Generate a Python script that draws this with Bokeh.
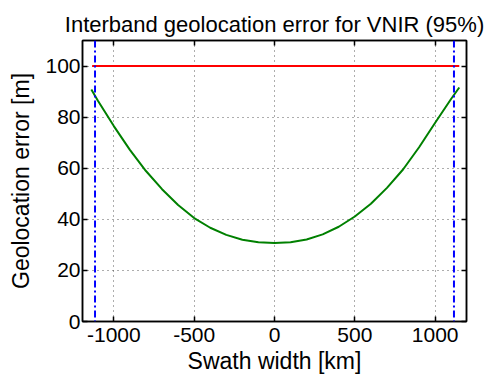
from bokeh.plotting import figure
from bokeh.models import LinearAxis, Range1d, Span, FixedTicker, PrintfTickFormatter
from bokeh.embed import file_html
from bokeh.resources import INLINE

# Data
swath_km = [-1140, -1100, -1000, -900, -800, -700, -600, -500, -400, -300, -200, -100,
            0, 100, 200, 300, 400, 500, 600, 700, 800, 900, 1000, 1100, 1150]
geo_err_m = [90.8, 86.5, 76.5, 67.2, 58.9, 51.8, 45.6, 40.5, 36.7, 33.9, 32.0, 31.0,
             30.7, 31.0, 32.1, 34.1, 37.1, 41.1, 46.1, 52.3, 59.5, 68.2, 77.8, 87.2, 91.6]
req_x = [-1135, 1150]
req_y = [100, 100]
swath_edges = [-1117, 1117]
x_ticks = [-1000, -500, 0, 500, 1000]
y_ticks = [0, 20, 40, 60, 80, 100]

FONT = "Liberation Sans"

p = figure(width=489, height=378, frame_width=384, frame_height=281,
           output_backend="svg", toolbar_location=None,
           x_range=Range1d(-1195, 1195), y_range=Range1d(0, 110),
           min_border_left=82, min_border_right=23, min_border_top=40, min_border_bottom=57,
           title="Interband geolocation error for VNIR (95%)")

p.title.text_font = FONT
p.title.text_font_size = "22px"
p.title.text_font_style = "normal"
p.title.text_color = "black"
p.title.align = "center"
p.title.standoff = 8

p.background_fill_color = "white"
p.border_fill_color = "white"
p.outline_line_color = "black"
p.outline_line_width = 1.5

for ax in (p.xaxis[0], p.yaxis[0]):
    ax.major_label_text_font = FONT
    ax.major_label_text_font_size = "21px"
    ax.major_label_text_color = "black"
    ax.axis_label_text_font = FONT
    ax.axis_label_text_font_size = "23px"
    ax.axis_label_text_font_style = "normal"
    ax.axis_label_text_color = "black"
    ax.major_tick_in = 5
    ax.major_tick_out = 0
    ax.minor_tick_in = 0
    ax.minor_tick_out = 0
    ax.axis_line_width = 1.5
    ax.major_tick_line_width = 1.5
    ax.formatter = PrintfTickFormatter(format="%d")

p.xaxis[0].ticker = FixedTicker(ticks=x_ticks)
p.yaxis[0].ticker = FixedTicker(ticks=y_ticks)
p.xaxis[0].axis_label = "Swath width [km]"
p.yaxis[0].axis_label = "Geolocation error [m]"
p.xaxis[0].major_label_standoff = 6
p.yaxis[0].major_label_standoff = 2
p.xaxis[0].axis_label_standoff = 3
p.yaxis[0].axis_label_standoff = 8

top_ax = LinearAxis(ticker=FixedTicker(ticks=x_ticks), major_label_text_font_size="0px",
                    major_label_standoff=0, major_tick_in=5, major_tick_out=0,
                    minor_tick_in=0, minor_tick_out=0, axis_line_width=1.5,
                    major_tick_line_width=1.5)
right_ax = LinearAxis(ticker=FixedTicker(ticks=y_ticks), major_label_text_font_size="0px",
                      major_label_standoff=0, major_tick_in=5, major_tick_out=0,
                      minor_tick_in=0, minor_tick_out=0, axis_line_width=1.5,
                      major_tick_line_width=1.5)
p.add_layout(top_ax, "above")
p.add_layout(right_ax, "right")

p.xgrid.ticker = FixedTicker(ticks=x_ticks)
p.ygrid.ticker = FixedTicker(ticks=y_ticks)
for g in (p.xgrid[0], p.ygrid[0]):
    g.grid_line_color = "#333333"
    g.grid_line_dash = "1 4"
    g.grid_line_width = 1
    g.grid_line_alpha = 0.8

p.line(req_x, req_y, line_color="#ff0000", line_width=2)
p.line(swath_km, geo_err_m, line_color="#008000", line_width=2)
for loc in swath_edges:
    p.add_layout(Span(location=loc, dimension="height", line_color="#0000ff",
                      line_width=2, line_dash="7 3 2 3"))

open("out.html", "w").write(file_html(p, INLINE))
